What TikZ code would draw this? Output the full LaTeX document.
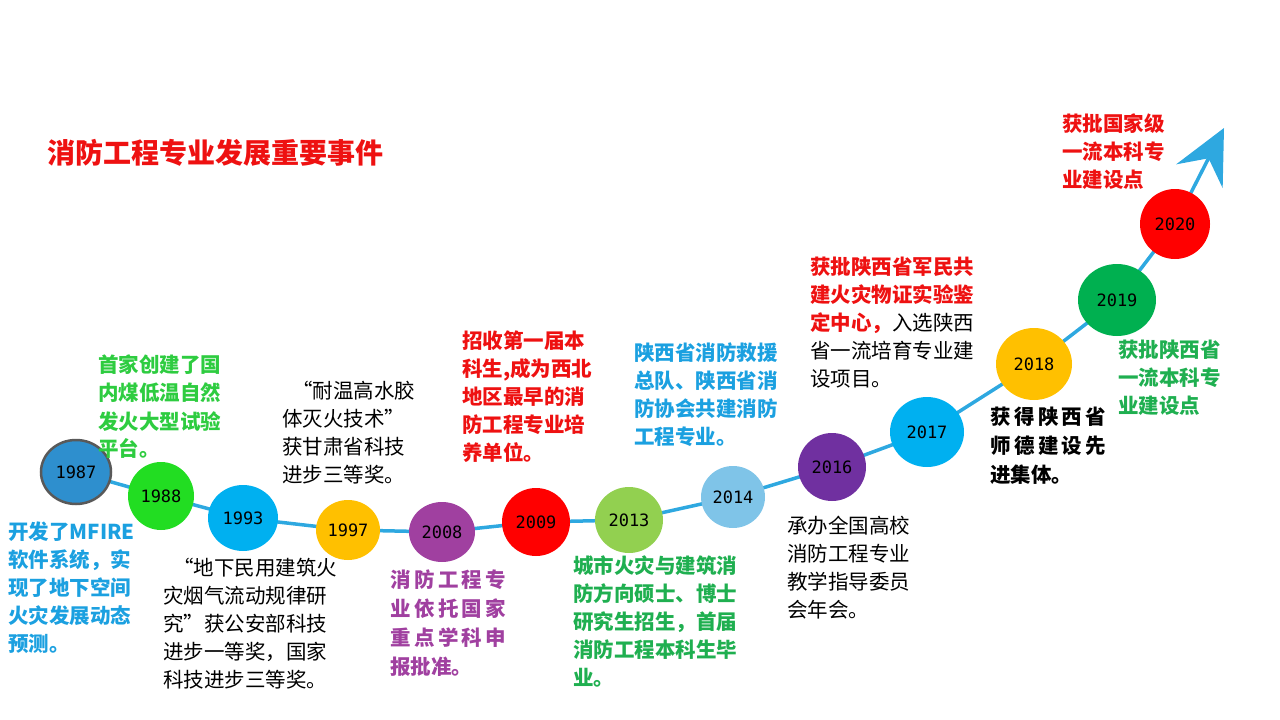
\documentclass[tikz,border=0pt]{standalone}
\usepackage{fontspec}
\setmainfont{Noto Sans CJK SC}
\newfontfamily\yrfont{DejaVu Sans Mono}
\usetikzlibrary{arrows.meta,backgrounds,shapes.geometric}
\definecolor{cblue}{HTML}{2EA8E0}
\definecolor{tblue}{HTML}{1BA0E0}
\definecolor{tgreen}{HTML}{2ECC40}
\definecolor{tgreen2}{HTML}{1FAF50}
\definecolor{tpurple}{HTML}{A040A0}
\definecolor{tred}{HTML}{EE1111}
\definecolor{c87}{HTML}{2E8FCE}
\definecolor{c88}{HTML}{22DD22}
\definecolor{c93}{HTML}{00B0F0}
\definecolor{c97}{HTML}{FFC000}
\definecolor{c08}{HTML}{A040A0}
\definecolor{c09}{HTML}{FF0000}
\definecolor{c13}{HTML}{92D050}
\definecolor{c14}{HTML}{7FC4E8}
\definecolor{c16}{HTML}{7030A0}
\definecolor{c19}{HTML}{00B050}
\tikzset{
 yr/.style 2 args={ellipse, minimum width=#1, minimum height=#2, inner sep=0pt, font=\yrfont\fontsize{17}{17}\selectfont},
 blk/.style={anchor=north west, align=left, inner sep=0pt, font=\fontsize{20.5}{28}\selectfont},
 bblk/.style={anchor=north west, align=left, inner sep=0pt, font=\bfseries\fontsize{20.5}{28}\selectfont},
}
\begin{document}
\begin{tikzpicture}[x=1pt,y=-1pt]
\useasboundingbox (0,0) rectangle (1280,720);
\node[anchor=west,text=tred,font=\bfseries\fontsize{28}{28}\selectfont,inner sep=0pt] (title) at (47,153) {消防工程专业发展重要事件};
\node[yr={70pt}{64pt}, fill=c87, draw=gray!70!black, line width=2.5pt] (y87) at (76,472) {1987};
\node[yr={66pt}{68pt}, fill=c88] (y88) at (161,496) {1988};
\node[yr={70pt}{66pt}, fill=c93] (y93) at (243,518) {1993};
\node[yr={64pt}{60pt}, fill=c97] (y97) at (348,530) {1997};
\node[yr={66pt}{60pt}, fill=c08] (y08) at (442,532) {2008};
\node[yr={68pt}{68pt}, fill=c09] (y09) at (536,522) {2009};
\node[yr={68pt}{66pt}, fill=c13] (y13) at (629,520) {2013};
\node[yr={64pt}{62pt}, fill=c14] (y14) at (733,497) {2014};
\node[yr={68pt}{68pt}, fill=c16] (y16) at (832,467) {2016};
\node[yr={74pt}{70pt}, fill=c93] (y17) at (927,432) {2017};
\node[yr={76pt}{72pt}, fill=c97] (y18) at (1034,364) {2018};
\node[yr={78pt}{72pt}, fill=c19] (y19) at (1117,300) {2019};
\node[yr={70pt}{70pt}, fill=c09] (y20) at (1175,224) {2020};
\coordinate (tip) at (1224,128);
\begin{scope}[on background layer]
\draw[cblue, line width=3.5pt] (y87.center) -- (y88.center) -- (y93.center) -- (y97.center) -- (y08.center) -- (y09.center) -- (y13.center) -- (y14.center) -- (y16.center) -- (y17.center) -- (y18.center) -- (y19.center) -- (y20.center);
\draw[cblue, line width=3.5pt, -{Stealth[length=54pt,width=52pt,inset=20pt]}] (y20.center) -- (tip);
\end{scope}
\node[bblk,text=tblue] (t87) at (8,522) {开发了MFIRE\\软件系统，实\\现了地下空间\\火灾发展动态\\预测。};
\node[bblk,text=tgreen] (t88) at (98,355) {首家创建了国\\内煤低温自然\\发火大型试验\\平台。};
\node[blk] (t97) at (282,381) {\hspace{0.5em}“耐温高水胶\\体灭火技术”\\获甘肃省科技\\进步三等奖。};
\node[blk] (t93) at (163,558) {\hspace{0.5em}“地下民用建筑火\\灾烟气流动规律研\\究”获公安部科技\\进步一等奖，国家\\科技进步三等奖。};
\node[bblk,text=tpurple,font=\bfseries\fontsize{20.5}{29}\selectfont] (t08) at (390,570) {消\,防\,工\,程\,专\\业\,依\,托\,国\,家\\重\,点\,学\,科\,申\\报批准。};
\node[bblk,text=tred] (t09) at (462,331) {招收第一届本\\科生,成为西北\\地区最早的消\\防工程专业培\\养单位。};
\node[bblk,text=tgreen2] (t13) at (573,555) {城市火灾与建筑消\\防方向硕士、博士\\研究生招生，首届\\消防工程本科生毕\\业。};
\node[bblk,text=tblue] (t14) at (634,343) {陕西省消防救援\\总队、陕西省消\\防协会共建消防\\工程专业。};
\node[blk] (t16) at (787,516) {承办全国高校\\消防工程专业\\教学指导委员\\会年会。};
\node[blk] (t18) at (810,257) {\textcolor{tred}{\bfseries 获批陕西省军民共}\\\textcolor{tred}{\bfseries 建火灾物证实验鉴}\\\textcolor{tred}{\bfseries 定中心，}入选陕西\\省一流培育专业建\\设项目。};
\node[bblk,font=\bfseries\fontsize{20.5}{29}\selectfont] (t17) at (990,407) {获\,得\,陕\,西\,省\\师\,德\,建\,设\,先\\进集体。};
\node[bblk,text=tgreen2] (t19) at (1118,340) {获批陕西省\\一流本科专\\业建设点};
\node[bblk,text=tred] (t20) at (1062,114) {获批国家级\\一流本科专\\业建设点};
\end{tikzpicture}
\end{document}
